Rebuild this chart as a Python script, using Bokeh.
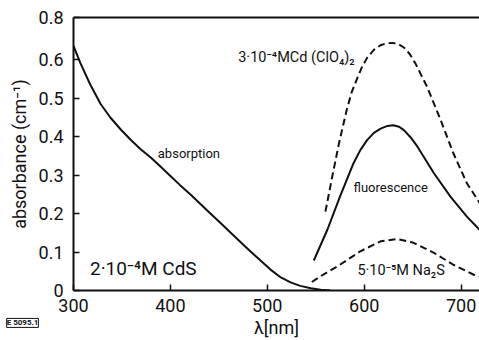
from bokeh.plotting import figure
from bokeh.models import Range1d, FixedTicker, LinearAxis, Label
from bokeh.embed import file_html
from bokeh.resources import INLINE

# --- data (wavelength in nm, absorbance in cm^-1) ---
wl_abs = [300, 307, 317, 328, 338, 349, 359, 369, 380, 390, 400, 410, 421, 431,
          441, 452, 462, 472, 483, 493, 503, 514, 524, 534, 545, 555, 565]
abs_vals = [0.636, 0.592, 0.537, 0.485, 0.450, 0.418, 0.392, 0.368, 0.345, 0.322,
            0.298, 0.274, 0.249, 0.225, 0.201, 0.175, 0.151, 0.127, 0.101, 0.078,
            0.055, 0.034, 0.021, 0.012, 0.006, 0.002, 0.0]

wl_cd = [560, 567, 574, 582, 587, 593, 598, 603, 610, 617, 623, 629, 635, 641,
         647, 653, 665, 679, 692, 706, 719]
cd_vals = [0.205, 0.296, 0.383, 0.470, 0.515, 0.553, 0.583, 0.605, 0.626, 0.638,
           0.643, 0.644, 0.641, 0.632, 0.615, 0.590, 0.529, 0.443, 0.357, 0.279, 0.228]

wl_fl = [548, 562, 575, 589, 596, 603, 610, 617, 624, 630, 636, 641, 648, 655,
         672, 689, 706, 719]
fl_vals = [0.078, 0.158, 0.244, 0.331, 0.365, 0.391, 0.410, 0.421, 0.428, 0.430,
           0.426, 0.417, 0.398, 0.374, 0.305, 0.244, 0.192, 0.158]

wl_na = [546, 555, 575, 596, 617, 634, 651, 672, 692, 713, 719]
na_vals = [0.022, 0.037, 0.067, 0.102, 0.128, 0.134, 0.124, 0.098, 0.067, 0.041, 0.037]

x_ticks = [300, 400, 500, 600, 700]
y_ticks = [0, 0.1, 0.2, 0.3, 0.4, 0.5, 0.6]
# The original figure labels the top edge of its frame "0.8", although on its
# own linear tick spacing that edge sits at about 0.71; this is reproduced here.
Y_TOP = 0.71
X_END = 719

FONT = "Roboto"
INK = "#111111"

p = figure(width=479, height=340, output_backend="svg", toolbar_location=None,
           x_range=Range1d(300, X_END), y_range=Range1d(0, Y_TOP),
           min_border_left=73, min_border_right=0, min_border_top=17,
           min_border_bottom=49)
p.outline_line_color = None
p.grid.visible = False
p.background_fill_color = "white"
p.border_fill_color = "white"

p.xaxis.ticker = FixedTicker(ticks=x_ticks)
p.yaxis.ticker = FixedTicker(ticks=y_ticks + [Y_TOP])
p.yaxis.major_label_overrides = {Y_TOP: "0.8"}
for ax in (p.xaxis, p.yaxis):
    ax.axis_line_width = 2
    ax.axis_line_color = INK
    ax.major_tick_in = 6
    ax.major_tick_out = 0
    ax.major_tick_line_width = 1.5
    ax.major_tick_line_color = INK
    ax.minor_tick_line_color = None
    ax.major_label_text_font = FONT
    ax.major_label_text_font_size = "18px"
    ax.major_label_text_color = INK
    ax.axis_label_text_font = FONT
    ax.axis_label_text_font_size = "18px"
    ax.axis_label_text_font_style = "normal"
    ax.axis_label_text_color = INK
p.xaxis.axis_label = "λ[nm]"
p.yaxis.axis_label = "absorbance (cm⁻¹)"
p.xaxis.major_label_standoff = 8
p.yaxis.major_label_standoff = 10
p.xaxis.axis_label_standoff = 2
p.yaxis.axis_label_standoff = 6

top = LinearAxis(ticker=FixedTicker(ticks=[]), axis_line_width=2, axis_line_color=INK,
                 major_label_text_font_size="0px", major_tick_line_color=None,
                 major_tick_in=0, major_tick_out=0, major_label_standoff=0,
                 minor_tick_line_color=None)
p.add_layout(top, "above")

p.line(wl_abs, abs_vals, line_width=2, line_color=INK, line_join="round")
p.line(wl_fl, fl_vals, line_width=2, line_color=INK, line_join="round")
p.line(wl_cd, cd_vals, line_width=2, line_color=INK, line_dash="7 4", line_join="round")
p.line(wl_na, na_vals, line_width=2, line_color=INK, line_dash="7 4", line_join="round")

def lab(x, y, text, size, base="middle"):
    p.add_layout(Label(x=x, y=y, text=text, text_font=FONT, text_font_size=size,
                       text_color=INK, text_baseline=base))

lab(387, 0.356, "absorption", "13px")
lab(589, 0.267, "fluorescence", "13px")
lab(470, 0.606, "3·10⁻⁴MCd (ClO₄)₂", "14.5px")
lab(593, 0.053, "5·10⁻⁵M Na₂S", "14.5px")
lab(317, 0.057, "2·10⁻⁴M CdS", "19px")

# figure code outside the frame: placed in a side panel so it is not clipped
p.add_layout(Label(x=231, y=-0.096, text="E 5095.1", text_font=FONT,
                   text_font_size="8px", text_font_style="bold", text_color=INK,
                   text_baseline="bottom",
                   border_line_color=INK, border_line_width=1), "above")

open("out.html", "w").write(file_html(p, INLINE))
